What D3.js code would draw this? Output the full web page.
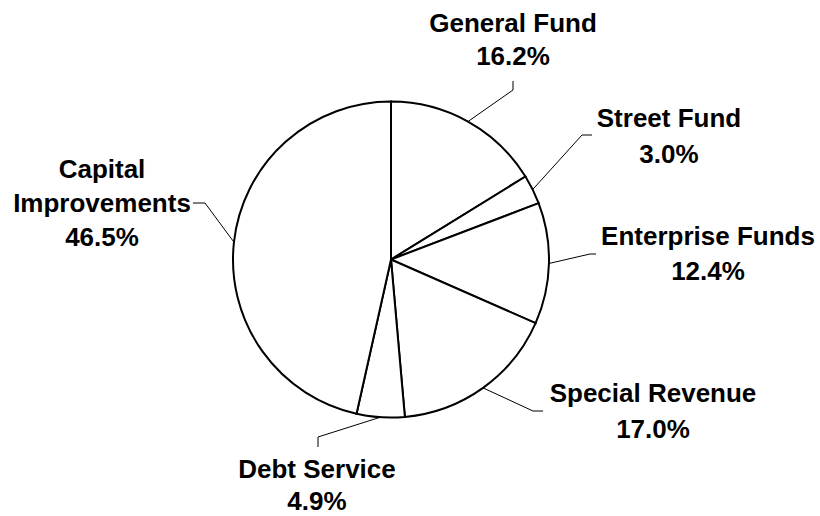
<!DOCTYPE html>
<html>
<head>
<meta charset="utf-8">
<script src="https://cdn.jsdelivr.net/npm/d3@7"></script>
<style>
  html, body { margin: 0; padding: 0; background: #fff; }
  svg { display: block; }
  text { font-family: "Liberation Sans", Arial, sans-serif; font-weight: bold; font-size: 26px; fill: #000; }
</style>
</head>
<body>
<svg id="chart" width="820" height="516"></svg>
<script>
// Budget shares by fund, clockwise from 12 o'clock
const funds = ["General Fund", "Street Fund", "Enterprise Funds", "Special Revenue", "Debt Service", "Capital Improvements"];
const shares = [16.2, 3.0, 12.4, 17.0, 4.9, 46.5];

// Label placement: text lines, anchor point, line spacing, leader elbow and leader end
const labelLayout = [
  { lines: ["General Fund"], x: 513, y: 32, lh: 33, elbow: [513, 90], end: [513, 81] },
  { lines: ["Street Fund"], x: 669, y: 127, lh: 36, elbow: [582, 135], end: [592, 135] },
  { lines: ["Enterprise Funds"], x: 708, y: 245, lh: 35, elbow: [590, 254], end: [596, 254] },
  { lines: ["Special Revenue"], x: 653, y: 402, lh: 36, elbow: [533, 411], end: [543, 411] },
  { lines: ["Debt Service"], x: 317, y: 478, lh: 32, elbow: [318, 437], end: [318, 447] },
  { lines: ["Capital", "Improvements"], x: 102, y: 178, lh: 34, elbow: [205, 203], end: [193, 203] }
];

const cx = 391, cy = 259.5, radius = 158;

const svg = d3.select("#chart");
const g = svg.append("g").attr("transform", `translate(${cx},${cy})`);

const pie = d3.pie().sort(null).value(d => d.value);
const arc = d3.arc().innerRadius(0).outerRadius(radius);

const data = funds.map((name, i) => ({ name, value: shares[i], layout: labelLayout[i] }));
const arcs = pie(data);

g.selectAll("path.slice")
  .data(arcs)
  .join("path")
  .attr("class", "slice")
  .attr("d", arc)
  .attr("fill", "#fff")
  .attr("stroke", "#000")
  .attr("stroke-width", 2)
  .attr("stroke-linejoin", "miter");

// Leader lines from the arc edge at each slice's middle angle
const leaders = svg.append("g");
arcs.forEach(a => {
  const mid = (a.startAngle + a.endAngle) / 2;
  const sx = cx + radius * Math.sin(mid);
  const sy = cy - radius * Math.cos(mid);
  const L = a.data.layout;
  leaders.append("polyline")
    .attr("points", [[sx, sy], L.elbow, L.end].map(p => p.join(",")).join(" "))
    .attr("fill", "none")
    .attr("stroke", "#000")
    .attr("stroke-width", 1);
});

// Fund names with their percentage on the line below
const fmt = d3.format(".1f");
const labels = svg.append("g");
arcs.forEach(a => {
  const L = a.data.layout;
  const t = labels.append("text")
    .attr("text-anchor", "middle")
    .attr("x", L.x)
    .attr("y", L.y);
  const allLines = L.lines.concat([fmt(a.data.value) + "%"]);
  allLines.forEach((line, i) => {
    t.append("tspan")
      .attr("x", L.x)
      .attr("dy", i === 0 ? 0 : L.lh)
      .text(line);
  });
});
</script>
</body>
</html>
